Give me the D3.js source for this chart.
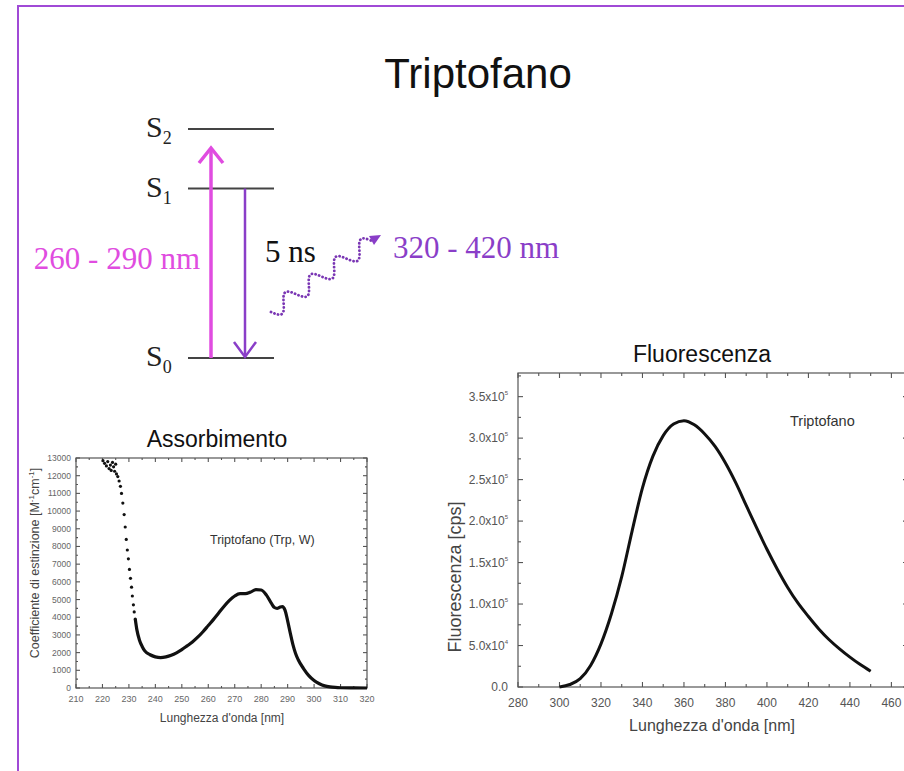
<!DOCTYPE html>
<html>
<head>
<meta charset="utf-8">
<script src="https://cdn.jsdelivr.net/npm/d3@7"></script>
<style>
  body { margin: 0; background: #fff; }
  svg { display: block; }
</style>
</head>
<body>
<div id="chart"></div>
<script>
const width = 904, height = 771;

// energy levels of the Jablonski diagram
const levels = ["S2", "S1", "S0"];
const levelEnergy = [2, 1.48, 0];
const excitation = "260 - 290 nm";
const emission = "320 - 420 nm";
const lifetime = "5 ns";

// absorption spectrum, sparse dots at short wavelengths
const absDotsNm = [220.2, 220.8, 221.5, 222, 222.5, 223, 223.3, 223.8, 224.2, 224.6, 225, 225.3, 225.8, 226.3, 226.8, 227.2, 227.7, 228.2, 228.6, 229, 229.4, 229.8, 230.2, 230.6, 231, 231.3, 231.7, 232, 232.4];
const absDotsEps = [12850, 12700, 12550, 12800, 12400, 12600, 12300, 12750, 12500, 12250, 12650, 12100, 11950, 11700, 11400, 11000, 10450, 9800, 9100, 8400, 7800, 7300, 6700, 6200, 5700, 5200, 4700, 4300, 3900];
// absorption spectrum, dense part
const absNm = [232.4, 233, 234, 235, 236, 238, 240, 242, 244, 246, 248, 250, 252, 254, 256, 258, 260, 262, 264, 266, 268, 270, 272, 274, 276, 278, 280, 282, 284, 285, 286, 287, 288, 289, 290, 291, 292, 293, 294, 296, 298, 300, 302, 304, 306, 308, 310, 315, 320];
const absEps = [3900, 3300, 2700, 2350, 2100, 1880, 1760, 1720, 1760, 1850, 1990, 2170, 2380, 2600, 2870, 3180, 3530, 3880, 4250, 4620, 4950, 5200, 5330, 5330, 5420, 5560, 5540, 5250, 4750, 4550, 4500, 4560, 4600, 4400, 3800, 3100, 2450, 1950, 1600, 1100, 700, 420, 240, 120, 60, 30, 15, 5, 0];

// fluorescence emission spectrum (units of 1e5 cps)
const fluoNm = [300, 305, 310, 315, 320, 325, 330, 335, 340, 345, 350, 355, 360, 365, 370, 375, 380, 385, 390, 395, 400, 405, 410, 415, 420, 425, 430, 435, 440, 445, 450];
const fluoCps = [0, 0.03, 0.10, 0.26, 0.52, 0.88, 1.33, 1.88, 2.40, 2.78, 3.03, 3.17, 3.21, 3.16, 3.05, 2.90, 2.70, 2.46, 2.19, 1.92, 1.66, 1.42, 1.20, 1.01, 0.85, 0.70, 0.57, 0.46, 0.36, 0.27, 0.19];
const fluoTickLabels = ["0.0", "5.0x10|4", "1.0x10|5", "1.5x10|5", "2.0x10|5", "2.5x10|5", "3.0x10|5", "3.5x10|5"];

const sans = "'Liberation Sans', Arial, sans-serif";
const serif = "'Liberation Serif', 'Times New Roman', serif";

const svg = d3.select("#chart")
  .append("svg")
  .attr("width", width)
  .attr("height", height);

svg.append("rect")
  .attr("width", width).attr("height", height)
  .attr("fill", "#fff");

// purple frame of the slide
svg.append("rect")
  .attr("x", 18).attr("y", 6)
  .attr("width", 1000).attr("height", 1000)
  .attr("fill", "none")
  .attr("stroke", "#a04ad6")
  .attr("stroke-width", 2);

svg.append("text")
  .attr("x", 478).attr("y", 88)
  .attr("text-anchor", "middle")
  .attr("font-family", sans)
  .attr("font-size", 42)
  .attr("fill", "#111")
  .text("Triptofano");

// ---------- Jablonski diagram ----------
const ly = d3.scaleLinear().domain([0, 2]).range([358, 129]);

const jg = svg.append("g");
jg.selectAll("line.level")
  .data(levelEnergy)
  .join("line")
  .attr("class", "level")
  .attr("x1", 188).attr("x2", 274)
  .attr("y1", d => ly(d)).attr("y2", d => ly(d))
  .attr("stroke", "#444")
  .attr("stroke-width", 2);

const lab = jg.selectAll("text.lvl")
  .data(levels)
  .join("text")
  .attr("class", "lvl")
  .attr("x", 146)
  .attr("y", (d, i) => ly(levelEnergy[i]) + 8)
  .attr("font-family", serif)
  .attr("font-size", 30)
  .attr("fill", "#222");
lab.append("tspan").text("S");
lab.append("tspan")
  .attr("font-size", 18)
  .attr("dy", 7)
  .text(d => d.slice(1));

// excitation arrow (pink, up)
const pink = "#e04ce0", violet = "#8a3ec8";
jg.append("line")
  .attr("x1", 211).attr("x2", 211)
  .attr("y1", ly(0)).attr("y2", 149)
  .attr("stroke", pink).attr("stroke-width", 3.5);
jg.append("path")
  .attr("d", "M199,163 L211,148 L223,163")
  .attr("fill", "none").attr("stroke", pink).attr("stroke-width", 3.5);

// emission arrow (violet, down)
jg.append("line")
  .attr("x1", 245).attr("x2", 245)
  .attr("y1", ly(1.48)).attr("y2", ly(0) - 2)
  .attr("stroke", violet).attr("stroke-width", 2.5);
jg.append("path")
  .attr("d", `M234,${ly(0) - 16} L245,${ly(0) - 1} L256,${ly(0) - 16}`)
  .attr("fill", "none").attr("stroke", violet).attr("stroke-width", 2.5);

jg.append("text")
  .attr("x", 200).attr("y", 269)
  .attr("text-anchor", "end")
  .attr("font-family", serif).attr("font-size", 31)
  .attr("fill", pink)
  .text(excitation);

jg.append("text")
  .attr("x", 265).attr("y", 262)
  .attr("font-family", serif).attr("font-size", 31)
  .attr("fill", "#111")
  .text(lifetime);

jg.append("text")
  .attr("x", 393).attr("y", 258)
  .attr("font-family", serif).attr("font-size", 31)
  .attr("fill", violet)
  .text(emission);

// wavy photon
const x0 = 271, y0 = 312, x1 = 372, y1 = 241;
const len = Math.hypot(x1 - x0, y1 - y0);
const ang = Math.atan2(y1 - y0, x1 - x0);
const wave = d3.range(0, 1.0001, 0.01).map(t => {
  const s = t * len, w = 8 * Math.sin(t * Math.PI * 2 * 4);
  return [x0 + s * Math.cos(ang) - w * Math.sin(ang), y0 + s * Math.sin(ang) + w * Math.cos(ang)];
});
jg.append("path")
  .attr("d", d3.line().curve(d3.curveBasis)(wave))
  .attr("fill", "none")
  .attr("stroke", "#7a36b4")
  .attr("stroke-width", 2.8)
  .attr("stroke-linecap", "round")
  .attr("stroke-dasharray", "0.1,3.6");
jg.append("path")
  .attr("d", "M369,236 L381,235 L374,245 Z")
  .attr("fill", violet);

// ---------- absorption chart ----------
const ax = d3.scaleLinear().domain([210, 320]).range([76, 367]);
const ay = d3.scaleLinear().domain([0, 13000]).range([688, 458]);
const ag = svg.append("g");

function frameTicks(g, x, y, xMaj, xMin, yMaj, yMin, majL, minL) {
  const [xa, xb] = x.range(), [ya, yb] = y.range();
  g.append("rect")
    .attr("x", xa).attr("y", yb)
    .attr("width", xb - xa).attr("height", ya - yb)
    .attr("fill", "none").attr("stroke", "#555").attr("stroke-width", 1.2);
  const tk = [];
  xMaj.forEach(v => tk.push([x(v), ya, x(v), ya - majL], [x(v), yb, x(v), yb + majL]));
  xMin.forEach(v => tk.push([x(v), ya, x(v), ya - minL], [x(v), yb, x(v), yb + minL]));
  yMaj.forEach(v => tk.push([xa, y(v), xa + majL, y(v)], [xb, y(v), xb - majL, y(v)]));
  yMin.forEach(v => tk.push([xa, y(v), xa + minL, y(v)], [xb, y(v), xb - minL, y(v)]));
  g.selectAll("line.tk")
    .data(tk)
    .join("line")
    .attr("class", "tk")
    .attr("x1", d => d[0]).attr("y1", d => d[1])
    .attr("x2", d => d[2]).attr("y2", d => d[3])
    .attr("stroke", "#555").attr("stroke-width", 1.1);
}

frameTicks(ag, ax, ay,
  d3.range(210, 321, 10), d3.range(215, 320, 10),
  d3.range(0, 13001, 1000), d3.range(500, 13000, 1000), 4, 2);

ag.selectAll("text.xt")
  .data(ax.ticks(11))
  .join("text")
  .attr("class", "xt")
  .attr("x", d => ax(d)).attr("y", 702)
  .attr("text-anchor", "middle")
  .attr("font-family", sans).attr("font-size", 9)
  .attr("fill", "#666")
  .text(d => d);

ag.selectAll("text.yt")
  .data(d3.range(0, 13001, 1000))
  .join("text")
  .attr("class", "yt")
  .attr("x", 71).attr("y", d => ay(d) + 3)
  .attr("text-anchor", "end")
  .attr("font-family", sans).attr("font-size", 8.5)
  .attr("fill", "#666")
  .text(d => d);

ag.append("text")
  .attr("x", 217).attr("y", 447)
  .attr("text-anchor", "middle")
  .attr("font-family", sans).attr("font-size", 23)
  .attr("fill", "#111")
  .text("Assorbimento");

ag.append("text")
  .attr("x", 222).attr("y", 722)
  .attr("text-anchor", "middle")
  .attr("font-family", sans).attr("font-size", 12)
  .attr("fill", "#444")
  .text("Lunghezza d'onda [nm]");

const ayl = ag.append("text")
  .attr("transform", "translate(39,563) rotate(-90)")
  .attr("text-anchor", "middle")
  .attr("font-family", sans).attr("font-size", 12.5)
  .attr("fill", "#444");
ayl.append("tspan").text("Coefficiente di estinzione [M");
ayl.append("tspan").attr("font-size", 8).attr("dy", -5).text("-1");
ayl.append("tspan").attr("dy", 5).text("cm");
ayl.append("tspan").attr("font-size", 8).attr("dy", -5).text("-1");
ayl.append("tspan").attr("dy", 5).text("]");

ag.append("text")
  .attr("x", 210).attr("y", 544)
  .attr("font-family", sans).attr("font-size", 12.5)
  .attr("fill", "#333")
  .text("Triptofano (Trp, W)");

ag.append("path")
  .datum(absNm.map((d, i) => [d, absEps[i]]))
  .attr("d", d3.line().x(d => ax(d[0])).y(d => ay(d[1])).curve(d3.curveMonotoneX))
  .attr("fill", "none").attr("stroke", "#111").attr("stroke-width", 3.2);

ag.selectAll("circle")
  .data(absDotsNm.map((d, i) => [d, absDotsEps[i]]))
  .join("circle")
  .attr("cx", d => ax(d[0])).attr("cy", d => ay(d[1]))
  .attr("r", 1.6)
  .attr("fill", "#111");

// ---------- fluorescence chart ----------
const fx = d3.scaleLinear().domain([280, 468]).range([518, 908]);
const fy = d3.scaleLinear().domain([0, 3.785]).range([687, 373]);
const fg = svg.append("g");

frameTicks(fg, fx, fy,
  d3.range(280, 461, 20), d3.range(290, 468, 20),
  d3.range(0, 3.51, 0.5), d3.range(0.25, 3.76, 0.5), 5, 3);

fg.selectAll("text.xt")
  .data(d3.range(280, 461, 20))
  .join("text")
  .attr("class", "xt")
  .attr("x", d => fx(d)).attr("y", 707)
  .attr("text-anchor", "middle")
  .attr("font-family", sans).attr("font-size", 12)
  .attr("fill", "#555")
  .text(d => d);

const ytl = fg.selectAll("text.yt")
  .data(fluoTickLabels)
  .join("text")
  .attr("class", "yt")
  .attr("x", 508).attr("y", (d, i) => fy(i * 0.5) + 4)
  .attr("text-anchor", "end")
  .attr("font-family", sans).attr("font-size", 12)
  .attr("fill", "#555");
ytl.append("tspan").text(d => d.split("|")[0]);
ytl.filter(d => d.includes("|"))
  .append("tspan")
  .attr("font-size", 6).attr("dy", -6)
  .text(d => d.split("|")[1]);

fg.append("text")
  .attr("x", 702).attr("y", 362)
  .attr("text-anchor", "middle")
  .attr("font-family", sans).attr("font-size", 23)
  .attr("fill", "#111")
  .text("Fluorescenza");

fg.append("text")
  .attr("x", 712).attr("y", 731)
  .attr("text-anchor", "middle")
  .attr("font-family", sans).attr("font-size", 16)
  .attr("fill", "#444")
  .text("Lunghezza d'onda [nm]");

fg.append("text")
  .attr("transform", "translate(461,577) rotate(-90)")
  .attr("text-anchor", "middle")
  .attr("font-family", sans).attr("font-size", 18)
  .attr("fill", "#444")
  .text("Fluorescenza [cps]");

fg.append("text")
  .attr("x", 790).attr("y", 426)
  .attr("font-family", sans).attr("font-size", 14.5)
  .attr("fill", "#333")
  .text("Triptofano");

fg.append("path")
  .datum(fluoNm.map((d, i) => [d, fluoCps[i]]))
  .attr("d", d3.line().x(d => fx(d[0])).y(d => fy(d[1])).curve(d3.curveMonotoneX))
  .attr("fill", "none").attr("stroke", "#111").attr("stroke-width", 3);
</script>
</body>
</html>
